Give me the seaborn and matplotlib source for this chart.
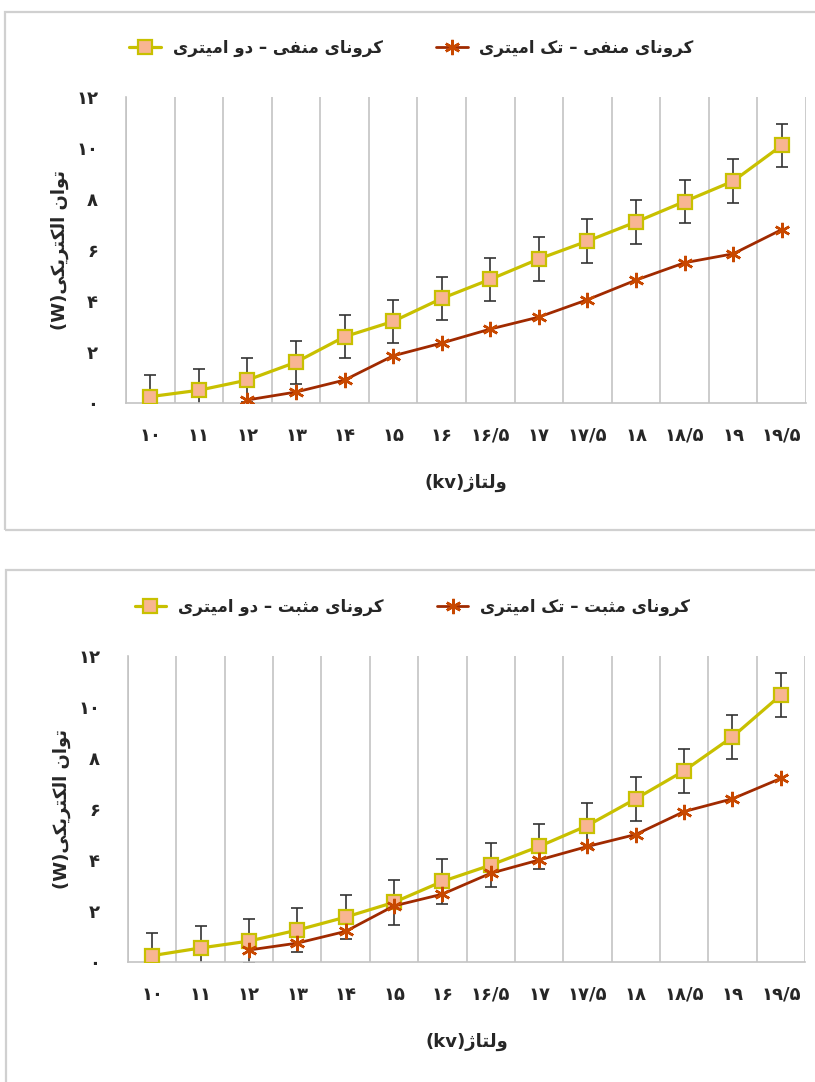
import numpy as np
import pandas as pd
import matplotlib
matplotlib.use("Agg")
import matplotlib.pyplot as plt
from matplotlib.patches import Rectangle
from matplotlib.ticker import FixedLocator
import seaborn as sns

# ---------------- data ----------------
categories = ["۱۰", "۱۱", "۱۲", "۱۳", "۱۴", "۱۵", "۱۶", "۱۶/۵", "۱۷", "۱۷/۵",
              "۱۸", "۱۸/۵", "۱۹", "۱۹/۵"]
y_ticks = [0, 2, 4, 6, 8, 10, 12]
y_tick_labels = ["۰", "۲", "۴", "۶", "۸", "۱۰", "۱۲"]

# negative corona (top panel)
neg_two = [0.25, 0.5, 0.9, 1.6, 2.6, 3.2, 4.1, 4.85, 5.65, 6.35, 7.1, 7.9, 8.7, 10.1]
neg_two_err = [0.85, 0.85, 0.85, 0.85, 0.85, 0.85, 0.85, 0.85, 0.85, 0.85, 0.85, 0.85, 0.85, 0.85]
neg_single = [np.nan, np.nan, 0.12, 0.43, 0.9, 1.85, 2.35, 2.9, 3.37, 4.05, 4.82, 5.5, 5.85, 6.8]

# positive corona (bottom panel)
pos_two = [0.25, 0.55, 0.82, 1.25, 1.76, 2.34, 3.16, 3.8, 4.53, 5.35, 6.4, 7.5, 8.83, 10.47]
pos_two_err = [0.87, 0.87, 0.87, 0.87, 0.87, 0.87, 0.87, 0.87, 0.87, 0.87, 0.87, 0.87, 0.87, 0.87]
pos_single = [np.nan, np.nan, 0.47, 0.74, 1.2, 2.2, 2.66, 3.48, 4.0, 4.53, 5.0, 5.9, 6.4, 7.2]

lbl_neg_two = "کرونای منفی – دو امیتری"
lbl_neg_single = "کرونای منفی – تک امیتری"
lbl_pos_two = "کرونای مثبت – دو امیتری"
lbl_pos_single = "کرونای مثبت – تک امیتری"
ylabel_fa = "توان الکتریکی"
ylabel_unit = "(W)"
xlabel_fa = "ولتاژ"
xlabel_unit = "(kv)"

# ---------------- Arabic shaping (no bidi engine in matplotlib) ----------------
FORMS = {
    'ا': (0xFE8D, 0xFE8E, None, None),
    'ب': (0xFE8F, 0xFE90, 0xFE91, 0xFE92),
    'ت': (0xFE95, 0xFE96, 0xFE97, 0xFE98),
    'ث': (0xFE99, 0xFE9A, 0xFE9B, 0xFE9C),
    'د': (0xFEA9, 0xFEAA, None, None),
    'ر': (0xFEAD, 0xFEAE, None, None),
    'ژ': (0xFB8A, 0xFB8B, None, None),
    'ف': (0xFED1, 0xFED2, 0xFED3, 0xFED4),
    'ک': (0xFB8E, 0xFB8F, 0xFB90, 0xFB91),
    'ل': (0xFEDD, 0xFEDE, 0xFEDF, 0xFEE0),
    'م': (0xFEE1, 0xFEE2, 0xFEE3, 0xFEE4),
    'ن': (0xFEE5, 0xFEE6, 0xFEE7, 0xFEE8),
    'و': (0xFEED, 0xFEEE, None, None),
    'ی': (0xFBFC, 0xFBFD, 0xFBFE, 0xFBFF),
}


def shape(s):
    out = []
    n = len(s)
    for i, c in enumerate(s):
        if c not in FORMS:
            out.append(c)
            continue
        f = FORMS[c]
        prev = s[i - 1] if i > 0 else None
        nxt = s[i + 1] if i < n - 1 else None
        cp = prev in FORMS and FORMS[prev][2] is not None
        cn = f[2] is not None and nxt in FORMS
        if cp and cn:
            g = f[3]
        elif cp:
            g = f[1]
        elif cn:
            g = f[2]
        else:
            g = f[0]
        out.append(chr(g))
    return ''.join(out)


def rtl(s):
    return shape(s)[::-1]


# ---------------- style ----------------
sns.set_theme(style="white")
plt.rcParams['font.family'] = ['DejaVu Sans']
plt.rcParams['font.weight'] = 'bold'

YEL = '#C8C000'
SQ_FACE = '#F8B592'
RED_LINE = '#A02A00'
RED_MK = '#C84800'
GRID = '#C4C4C4'
ERR = '#333333'

W, H = 815, 1082
fig = plt.figure(figsize=(W / 100, H / 100), dpi=100)

# panel frames
fig.add_artist(Rectangle((5 / W, 1 - 530 / H), 1.0, (530 - 12) / H, transform=fig.transFigure,
                         fill=False, edgecolor='#D0D0D0', lw=1.6))
fig.add_artist(Rectangle((6 / W, -0.02), 1.0, 0.02 + 1 - 570 / H, transform=fig.transFigure,
                         fill=False, edgecolor='#D0D0D0', lw=1.6))

panels = [
    dict(rect=[126 / W, 1 - 403 / H, (806 - 126) / W, (403 - 97) / H],
         two=neg_two, err=neg_two_err, single=neg_single,
         l_two=lbl_neg_two, l_single=lbl_neg_single),
    dict(rect=[128 / W, 1 - 962 / H, (805 - 128) / W, (962 - 656) / H],
         two=pos_two, err=pos_two_err, single=pos_single,
         l_two=lbl_pos_two, l_single=lbl_pos_single),
]

xpos = np.arange(len(categories))

for p in panels:
    ax = fig.add_axes(p['rect'])
    df_two = pd.DataFrame({'x': xpos, 'y': p['two'], 'e': p['err']})
    df_single = pd.DataFrame({'x': xpos, 'y': p['single']}).dropna()

    ax.errorbar(df_two['x'], df_two['y'], yerr=df_two['e'], fmt='none', ecolor=ERR,
                elinewidth=1.2, capsize=4, capthick=1.2, zorder=2)
    sns.lineplot(data=df_two, x='x', y='y', ax=ax, color=YEL, lw=2.3, marker='s',
                 markersize=10, markerfacecolor=SQ_FACE, markeredgecolor=YEL,
                 markeredgewidth=1.6, label=rtl(p['l_two']), zorder=3)
    sns.lineplot(data=df_single, x='x', y='y', ax=ax, color=RED_LINE, lw=2.0,
                 marker=(6, 2, 0), markersize=11, markeredgecolor=RED_MK,
                 markeredgewidth=1.8, label=rtl(p['l_single']), zorder=4)

    ax.set_xlim(-0.5, len(categories) - 0.5)
    ax.set_ylim(0, 12)
    ax.set_xticks(xpos)
    ax.set_xticklabels(categories, fontsize=13, fontweight='bold')
    ax.set_yticks(y_ticks)
    ax.set_yticklabels(y_tick_labels, fontsize=13, fontweight='bold')
    ax.xaxis.set_minor_locator(FixedLocator(np.arange(len(categories) + 1) - 0.5))
    ax.grid(False)
    ax.grid(which='minor', axis='x', color=GRID, lw=1.2)
    ax.tick_params(axis='both', which='both', length=0)
    ax.tick_params(axis='x', pad=17)
    ax.tick_params(axis='y', pad=20)
    for s in ['top', 'right']:
        ax.spines[s].set_visible(False)
    for s in ['left', 'bottom']:
        ax.spines[s].set_color(GRID)
        ax.spines[s].set_linewidth(1.2)

    ax.set_xlabel(xlabel_unit + rtl(xlabel_fa), fontsize=13, fontweight='bold', labelpad=21)
    ax.set_ylabel(ylabel_unit + rtl(ylabel_fa), fontsize=13, fontweight='bold', labelpad=5)

    leg = ax.legend(loc='center', bbox_to_anchor=(0.42, 1.16), ncol=2, frameon=False,
                    fontsize=12, handlelength=1.9, columnspacing=3.2, handletextpad=0.7)
    for t in leg.get_texts():
        t.set_fontweight('bold')

fig.savefig('out.png', dpi=100)
